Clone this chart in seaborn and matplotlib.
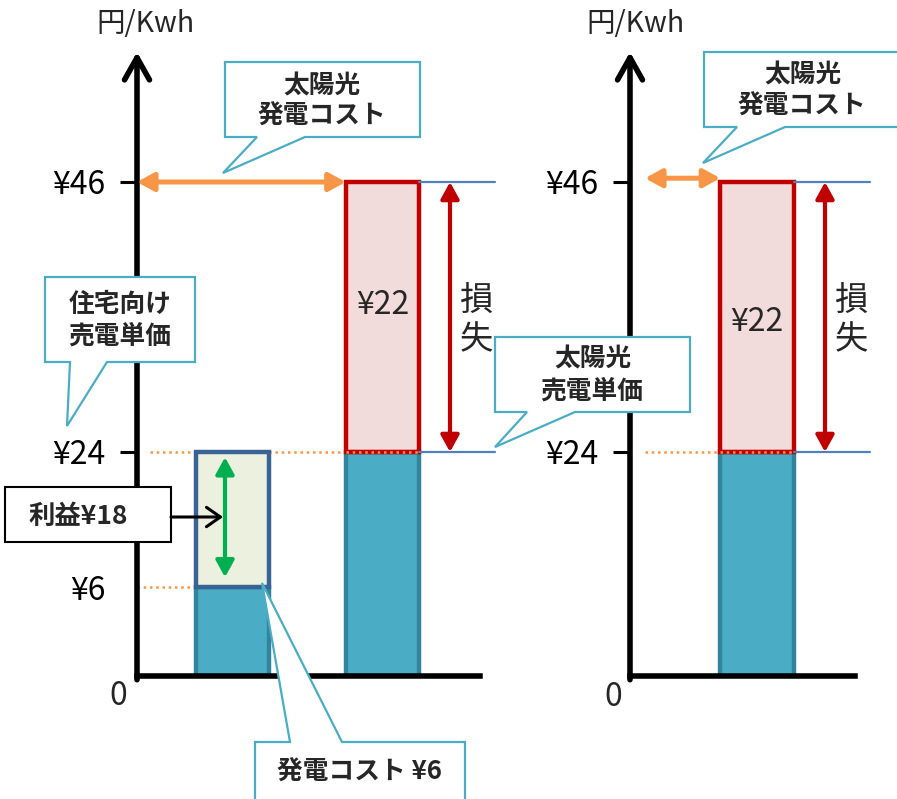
import numpy as np
import matplotlib
matplotlib.use("Agg")
import matplotlib.pyplot as plt
from matplotlib.patches import Polygon, FancyArrowPatch
import seaborn as sns

# ---------------- data ----------------
left_categories = ["住宅向け", "太陽光"]
left_base_values = [6, 24]        # lower (teal) segments: 発電コスト ¥6 / 売電単価 ¥24
left_upper_bottoms = [6, 24]
left_upper_values = [18, 22]      # 利益 ¥18 / 損失 ¥22
right_categories = ["太陽光"]
right_base_values = [24]
right_upper_bottoms = [24]
right_upper_values = [22]
solar_cost = 46
sell_price = 24
gen_cost = 6
left_tick_values = [6, 24, 46]
left_tick_labels = ["¥6", "¥24", "¥46"]
right_tick_values = [24, 46]
right_tick_labels = ["¥24", "¥46"]

# ---------------- style ----------------
sns.set_style("white")
plt.rcParams['font.family'] = ['Noto Sans CJK JP', 'DejaVu Sans']

TEAL = "#4BACC6"; TEAL_E = "#31849B"
GREEN_F = "#EBF1DE"; BLUE_E = "#3A6395"
PINK_F = "#F2DCDB"; RED = "#C00000"
ORANGE = "#F79646"; LBLUE = "#4F81BD"
CALLOUT = "#4BACC6"; GREEN = "#00B050"

W, H = 897, 799
fig = plt.figure(figsize=(W / 100, H / 100), dpi=100)

def ax_rect(x0, x1, ytop, ybot):
    return [x0 / W, 1 - ybot / H, (x1 - x0) / W, (ybot - ytop) / H]

axL = fig.add_axes(ax_rect(137, 480, 52, 676))
axR = fig.add_axes(ax_rect(630, 855, 52, 676))

# schematic (piecewise-linear) value axis
_KD = [-100, 0, 6, 24, 46, 58, 1000]
_KP = [-1500, 0, 89, 224, 494, 624, 624 + 942 * 10.8]
def fwd(v):
    return np.interp(v, _KD, _KP)
def inv(p):
    return np.interp(p, _KP, _KD)

BW = 0.49
LWB = 3.2
common = dict(width=BW, errorbar=None, saturation=1, linewidth=LWB)

# left panel bars
sns.barplot(x=left_categories, y=left_base_values, order=left_categories,
            color=TEAL, edgecolor=TEAL_E, ax=axL, zorder=2, **common)
sns.barplot(x=[left_categories[0]], y=[left_upper_values[0]], order=left_categories,
            bottom=left_upper_bottoms[0], color=GREEN_F, edgecolor=BLUE_E, ax=axL,
            zorder=2.2, **common)
sns.barplot(x=[left_categories[1]], y=[left_upper_values[1]], order=left_categories,
            bottom=left_upper_bottoms[1], color=PINK_F, edgecolor=RED, ax=axL,
            zorder=2.2, **common)
# right panel bars
sns.barplot(x=right_categories, y=right_base_values, order=right_categories,
            color=TEAL, edgecolor=TEAL_E, ax=axR, zorder=2, **common)
sns.barplot(x=right_categories, y=right_upper_values, order=right_categories,
            bottom=right_upper_bottoms[0], color=PINK_F, edgecolor=RED, ax=axR,
            zorder=2.2, **common)

def xL(px):
    return (px - 232.5) / 150.0
def xR(px):
    return (px - 757.0) / 150.0

for ax, xlim, tv, tl in ((axL, (xL(137), xL(480)), left_tick_values, left_tick_labels),
                         (axR, (xR(630), xR(855)), right_tick_values, right_tick_labels)):
    ax.set_yscale('function', functions=(fwd, inv))
    ax.set_ylim(0, 58)
    ax.set_xlim(*xlim)
    ax.set_xticks([])
    ax.set_xlabel("")
    ax.set_ylabel("")
    ax.set_yticks(tv, tl)
    ax.tick_params(axis='y', which='major', left=True, length=12, width=2.2, pad=11,
                   labelsize=23, colors='black')
    ax.tick_params(axis='y', which='minor', left=False)
    for s in ("top", "right", "left"):
        ax.spines[s].set_visible(False)
    ax.spines["bottom"].set_linewidth(4)
    ax.spines["bottom"].set_color("black")
    ax.spines["bottom"].set_zorder(5)
    ax.patch.set_alpha(0)
    ax.annotate('', xy=(0, 1), xytext=(0, -0.006), xycoords='axes fraction',
                arrowprops=dict(arrowstyle='->,head_length=16,head_width=9',
                                mutation_scale=1, lw=4, color='black',
                                shrinkA=0, shrinkB=0))

axL.yaxis.get_major_ticks()[0].tick1line.set_visible(False)

def darrow(ax, p0, p1, color, lw=3, hl=10, hw=5.5, style='<|-|>'):
    a = FancyArrowPatch(p0, p1, transform=ax.transData,
                        arrowstyle=f'{style},head_length={hl},head_width={hw}',
                        mutation_scale=1, lw=lw, color=color,
                        shrinkA=0, shrinkB=0, clip_on=False, zorder=4)
    ax.add_artist(a)

dot = dict(color=ORANGE, lw=1.8, linestyle=(0, (1, 1.5)), clip_on=False)

# ---- left panel decorations ----
axL.plot([xL(150), 1 - BW / 2], [sell_price, sell_price], zorder=1.5, **dot)
axL.plot([xL(137), 0 - BW / 2], [gen_cost, gen_cost], zorder=1.5, **dot)
axL.plot([1 - BW / 2, 1 + BW / 2], [sell_price, sell_price], color=RED, lw=3,
         zorder=3, clip_on=False)
axL.plot([1 - BW / 2, 1 + BW / 2], [sell_price, sell_price], zorder=3.1, **dot)
for lvl in (solar_cost, sell_price):
    axL.plot([1 + BW / 2, xL(495)], [lvl, lvl], color=LBLUE, lw=1.6, clip_on=False, zorder=3)
darrow(axL, (xL(450), solar_cost), (xL(450), sell_price), RED, lw=3)
darrow(axL, (xL(137), solar_cost), (1 - BW / 2, solar_cost), ORANGE, lw=3.6)
darrow(axL, (xL(225), gen_cost + 1.3), (xL(225), sell_price - 0.7), GREEN, lw=3)
axL.text(1, 36, f"¥{left_upper_values[1]}", ha='center', va='center', fontsize=23, zorder=5)

# ---- right panel decorations ----
axR.plot([xR(645), 0 - BW / 2], [sell_price, sell_price], zorder=1.5, **dot)
axR.plot([-BW / 2, BW / 2], [sell_price, sell_price], color=RED, lw=3, zorder=3, clip_on=False)
axR.plot([-BW / 2, BW / 2], [sell_price, sell_price], zorder=3.1, **dot)
for lvl in (solar_cost, sell_price):
    axR.plot([BW / 2, xR(870)], [lvl, lvl], color=LBLUE, lw=1.6, clip_on=False, zorder=3)
darrow(axR, (xR(825), solar_cost), (xR(825), sell_price), RED, lw=3)
darrow(axR, (xR(645), solar_cost + 0.35), (-BW / 2, solar_cost + 0.35), ORANGE, lw=3.6)
axR.text(0, 34.6, f"¥{right_upper_values[0]}", ha='center', va='center', fontsize=23, zorder=5)

# ---------------- figure-level texts & callouts ----------------
def fp(x, y):
    return (x / W, 1 - y / H)

def ftext(x, y, s, **kw):
    kw.setdefault('ha', 'center')
    kw.setdefault('va', 'center')
    fig.text(x / W, 1 - y / H, s, zorder=12, **kw)

def callout(box, base, tip, edge=CALLOUT, lw=1.6):
    x0, y0, x1, y1 = box
    bl, br = base
    if tip[1] > y1:
        pts = [(x0, y0), (x1, y0), (x1, y1), (br, y1), tip, (bl, y1), (x0, y1)]
    else:
        pts = [(x0, y0), (bl, y0), tip, (br, y0), (x1, y0), (x1, y1), (x0, y1)]
    poly = Polygon([fp(*p) for p in pts], closed=True, transform=fig.transFigure,
                   facecolor='white', edgecolor=edge, lw=lw, zorder=10, joinstyle='miter')
    fig.add_artist(poly)

BOLD = dict(fontsize=18.5, fontweight='bold')

callout((225, 62, 420, 137), (257, 305), (223, 173))
ftext(322, 86, "太陽光", **BOLD)
ftext(322, 116, "発電コスト", **BOLD)

callout((704, 52, 905, 127), (737, 785), (703, 163))
ftext(803, 75, "太陽光", **BOLD)
ftext(802, 106, "発電コスト", **BOLD)

callout((45, 277, 195, 362), (70, 107), (67, 426))
ftext(120, 304, "住宅向け", **BOLD)
ftext(120, 336, "売電単価", **BOLD)

callout((495, 337, 690, 412), (527, 575), (495, 447))
ftext(593, 359, "太陽光", **BOLD)
ftext(592, 391, "売電単価", **BOLD)

callout((255, 742, 465, 840), (290, 342), (262, 583))
ftext(359, 772, f"発電コスト ¥{left_base_values[0]}", **BOLD)

# 利益 box
box = Polygon([fp(5, 487), fp(171, 487), fp(171, 542), fp(5, 542)], closed=True,
              transform=fig.transFigure, facecolor='white', edgecolor='black', lw=1.5, zorder=10)
fig.add_artist(box)
ftext(78, 516, f"利益¥{left_upper_values[0]}", fontsize=19, fontweight='bold')
fig.add_artist(FancyArrowPatch(fp(171, 517), fp(223, 517), transform=fig.transFigure,
                               arrowstyle='->,head_length=10,head_width=7', mutation_scale=1,
                               lw=2.2, color='black', shrinkA=0, shrinkB=0, zorder=11))

# axis titles and zero labels
ftext(145, 24, "円/Kwh", fontsize=20.5)
ftext(635, 24, "円/Kwh", fontsize=20.5)
ftext(118, 696, "0", fontsize=23)
ftext(613, 697, "0", fontsize=23)

# 損失 labels
for xc in (476, 851):
    ftext(xc, 300, "損", fontsize=24)
    ftext(xc, 340, "失", fontsize=24)

fig.savefig("out.png", dpi=100)
